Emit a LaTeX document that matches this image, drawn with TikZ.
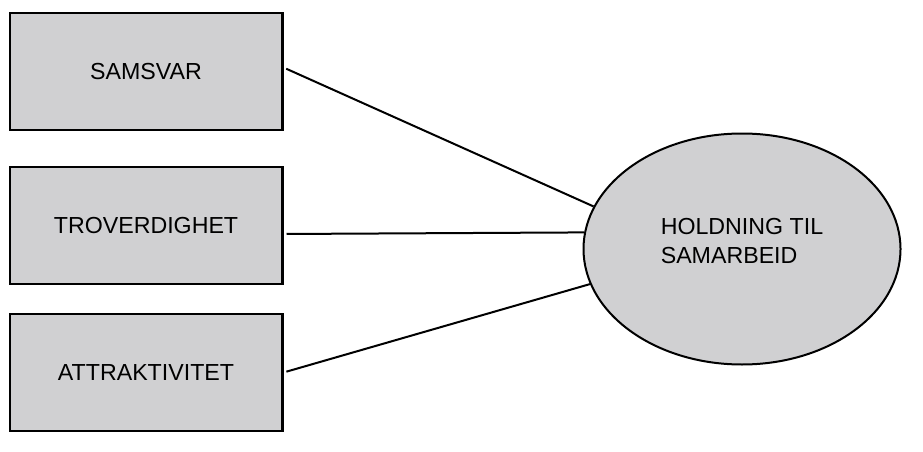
\documentclass[tikz,border=0pt]{standalone}
\usepackage{fontspec}
\setmainfont{Liberation Sans}
\usepackage{xcolor}
\usetikzlibrary{positioning, shapes.geometric}
\definecolor{boxgray}{RGB}{208,208,210}
\tikzset{
    x=1pt, y=1pt, % one unit is one pixel of the reference
    label font/.style={font=\fontsize{23.2}{29.5}\selectfont},
    factor/.style={draw, line width=2.4pt, fill=boxgray, inner sep=0pt,
        minimum width=272.6pt, minimum height=116.6pt, label font}, % the boxes on the left
    outcome/.style={ellipse, draw, line width=2pt, fill=boxgray, inner sep=0pt,
        minimum width=317pt, minimum height=231pt}, % the ellipse on the right
    outcome text/.style={align=left, inner sep=0pt, label font},
    link/.style={line width=2pt, shorten <=3pt},
}

\begin{document}
\begin{tikzpicture}
    \useasboundingbox (0,0) rectangle (923,-452);

    \node[factor] (samsvar) at (146,-71.5) {SAMSVAR};
    \node[factor] (troverdighet) [below=35pt of samsvar] {TROVERDIGHET};
    \node[factor] (attraktivitet) [below=28pt of troverdighet] {ATTRAKTIVITET};

    \node[outcome] (holdning) at (742,-249) {};
    \node[outcome text] (holdning text) at ([yshift=8pt]holdning.center) {HOLDNING TIL\\SAMARBEID};

    \draw[link] ([yshift=4pt]samsvar.east) -- (holdning.164);
    \draw[link] ([yshift=-8.5pt]troverdighet.east) -- (holdning.174.6);
    \draw[link] (attraktivitet.east) -- (holdning.193);
\end{tikzpicture}
\end{document}
